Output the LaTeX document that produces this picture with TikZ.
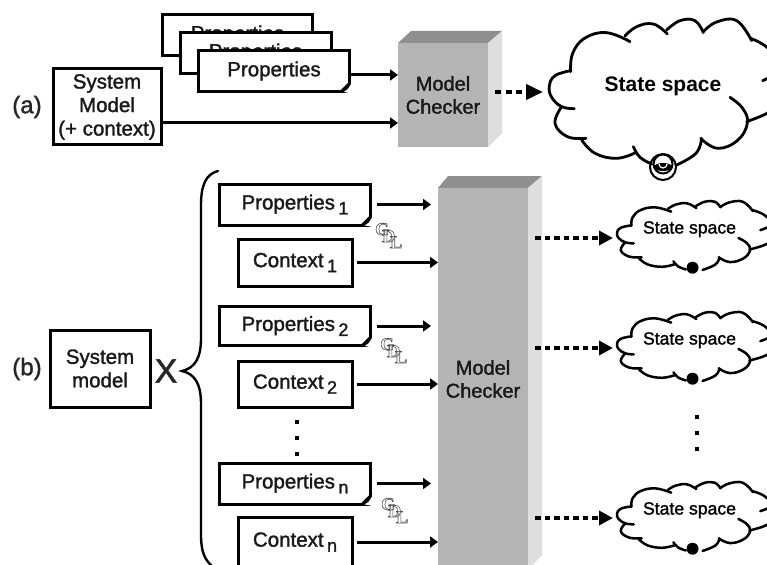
\documentclass[tikz,border=0pt]{standalone}
\usepackage{fontspec}
\usetikzlibrary{arrows.meta}
\setmainfont{Liberation Sans}
\newfontfamily\mfont{Liberation Sans}[FakeBold=1.5]
\newfontfamily\bfontx{Liberation Sans Bold}
\newfontfamily\gfont{Liberation Serif Bold}
\definecolor{ckfront}{HTML}{B4B4B4}
\definecolor{cktop}{HTML}{8F8F8F}
\definecolor{ckside}{HTML}{DEDEDE}
\newcommand{\fs}[1]{\fontsize{#1}{#1}\selectfont}
\newcommand{\sbs}[1]{\,\raisebox{-5pt}{\fs{18}#1}}
\tikzset{
  tbox/.style={draw=black,line width=3pt,fill=white,inner sep=0pt,outer sep=0pt,align=center,
    font=\mfont\fs{20.5},text=black!90},
  ckbody/.style={fill=ckfront,inner sep=0pt,outer sep=0pt,align=center,font=\mfont\fs{20},text=black!90},
  arr/.style={line width=3pt,-{Triangle[length=8pt,width=11pt]}},
  darr/.style={line width=4pt,dash pattern=on 5.5pt off 4pt,-{Triangle[length=14pt,width=14pt]}},
  cloudline/.style={line width=#1,line cap=round},
  lab/.style={font=\mfont\fs{24},inner sep=0pt,text=black!85},
  sstate/.style={font=\mfont\fs{17.6},inner sep=0pt},
  gdlx/.style={font=\gfont\fs{18},text=black!60,inner sep=0pt},
}
\newcommand{\fold}[1]{%
  \fill[white] ([shift={(-8,0)}]#1.south east) -- ([shift={(2,2)}]#1.south east) -- ([shift={(2,-8)}]#1.south east) -- cycle;
  \draw[line width=3pt,line join=round,fill=black] ([shift={(-8,0)}]#1.south east) -- ([shift={(0,-8)}]#1.south east) -- ([shift={(-3,-3.5)}]#1.south east) -- cycle;
}
\newcommand{\cloudlobes}[1]{%
  \begin{scope}[cloudline=#1]
  \draw plot[smooth,tension=.7] coordinates {(133,296) (95,290) (65,262) (58,228) (75,197) (122,182)};
  \draw plot[smooth,tension=.7] coordinates {(122,185) (128,130) (165,84) (230,68) (300,95)};
  \draw plot[smooth,tension=.7] coordinates {(285,78) (320,50) (370,42) (412,72)};
  \draw plot[smooth,tension=.7] coordinates {(410,60) (450,32) (495,32) (520,68)};
  \draw plot[smooth,tension=.7] coordinates {(520,65) (560,36) (620,32) (665,92)};
  \draw plot[smooth,tension=.7] coordinates {(662,85) (711,112) (745,160) (735,190) (698,212)};
  \draw plot[smooth,tension=.7] coordinates {(650,335) (711,310) (750,280)};
  \draw plot[smooth,tension=.7] coordinates {(600,262) (638,295) (652,340) (622,392) (562,415) (512,385)};
  \draw plot[smooth,tension=.7] coordinates {(515,385) (498,430) (440,465)};
  \draw plot[smooth,tension=.7] coordinates {(310,410) (330,442) (365,462)};
  \draw plot[smooth,tension=.7] coordinates {(317,428) (260,445) (195,430) (155,390)};
  \draw plot[smooth,tension=.7] coordinates {(168,385) (112,380) (75,340) (95,290)};
  \end{scope}
}
\newcommand{\smallcloud}[2]{%
  \begin{scope}[shift={(604,#1)},x=.224pt,y=-.1575pt]
    \cloudlobes{2.5pt}
  \end{scope}
  \fill[black] (692.5,#1+71) circle (6);
  \node[sstate] (#2) at (689.5,#1+32.5) {State space};
}
\newcommand{\gdlmark}{\special{pdf:code q 1 Tr 0.6 w 0.3 G}G\kern-7pt\raisebox{-7pt}{D}\kern-5pt\raisebox{-13pt}{L}\special{pdf:code Q}}
\begin{document}
\begin{tikzpicture}[x=1pt,y=-1pt]
\useasboundingbox (0,0) rectangle (767,564);
\fill[white] (0,0) rectangle (767,564);
\clip (0,0) rectangle (767,564);

% part (a)
\node[lab] (laba) at (27,107) {(a)};
\node[tbox,minimum width=108pt,minimum height=76pt] (sysa) at (107,107) {System\\[3pt]Model\\[3pt](+ context)};
\node[tbox,minimum width=150pt,minimum height=41pt] (pa1) at (237.5,35) {Properties};
\node[tbox,minimum width=151pt,minimum height=41pt] (pa2) at (255.5,53) {Properties};
\node[tbox,minimum width=151pt,minimum height=41pt] (pa3) at (274,71) {Properties};
\fold{pa3}

\fill[cktop] (398,43) -- (411,31) -- (502,31) -- (488,43) -- cycle;
\fill[ckside] (488,43) -- (502,31) -- (502,133) -- (488,147) -- cycle;
\node[ckbody,minimum width=90pt,minimum height=104pt] (cka) at (443,95) {Model\\[3pt]Checker};

\coordinate (pa3out) at (pa3.east |- 0,75);
\draw[arr] (pa3out) -- (pa3out -| cka.west);
\coordinate (sysaout) at (sysa.east |- 0,123);
\draw[arr] (sysaout) -- (sysaout -| cka.west);

\coordinate (dasrc) at (495,92);
\coordinate (dadst) at (543,92);
\draw[darr,dash pattern=on 6pt off 4.5pt,-{Triangle[length=17pt,width=15pt]}] (dasrc) -- (dadst);

\begin{scope}[shift={(530,10)},x=.3333pt,y=-.3333pt]
  \cloudlobes{2.8pt}
\end{scope}
\node[font=\bfontx\fs{21},inner sep=0pt] (ssa) at (663,86) {State space};
\fill[black] (663,167) ellipse (9 and 4);
\draw[line width=2pt] (663,167) circle (13);
\draw[line width=2pt] (663,164) circle (9.5);
\draw[white,line width=1.2pt] (659,164) arc (180:0:4);

% part (b)
\node[lab] (labb) at (27,369) {(b)};
\node[tbox,minimum width=100pt,minimum height=77pt] (sysb) at (100,368.5) {System\\[3pt]model};
\node[inner sep=0pt,font=\mfont\fs{34},text=black!85] (times) at (166,371) {X};
\draw[line width=2.4pt,line cap=round] (218,171) .. controls (206,174) and (201,185) .. (201,205) -- (201,338) .. controls (201,358) and (195,368) .. (182,371) .. controls (195,374) and (201,384) .. (201,404) -- (201,535) .. controls (201,552) and (205,560) .. (212,566);

\node[tbox,minimum width=151pt,minimum height=41pt] (p1) at (295,204.5) {Properties\sbs{1}};
\node[tbox,minimum width=114pt,minimum height=47pt] (c1) at (295,262.5) {Context\sbs{1}};
\node[tbox,minimum width=151pt,minimum height=39pt] (p2) at (295,326) {Properties\sbs{2}};
\node[tbox,minimum width=114pt,minimum height=46pt] (c2) at (295,384) {Context\sbs{2}};
\node[tbox,minimum width=151pt,minimum height=41pt] (pn) at (295,483.5) {Properties\sbs{n}};
\node[tbox,minimum width=114pt,minimum height=49pt] (cn) at (295,542) {Context\sbs{n}};
\fold{p1}\fold{p2}\fold{pn}

\foreach \yy in {422,438,454} \fill[black] (297,\yy) +(-2,-2) rectangle +(2,2);
\foreach \yy in {417,433,449} \fill[black] (697,\yy) +(-2,-2) rectangle +(2,2);

\fill[cktop] (438,188) -- (448,176) -- (542,176) -- (528,188) -- cycle;
\fill[ckside] (528,188) -- (542,176) -- (542,555) -- (528,570) -- cycle;
\node[ckbody,minimum width=90pt,minimum height=382pt] (ckb) at (483,379) {Model\\[3pt]Checker};

\foreach \nd in {p1,p2,pn}
  \draw[arr,shorten <=6pt,shorten >=7pt] (\nd.east) -- (\nd.east -| ckb.west);
\foreach \nd in {c1,c2,cn}
  \draw[arr,shorten <=5pt] (\nd.east) -- (\nd.east -| ckb.west);

\node[gdlx,anchor=north west] (gdla) at (375,223) {\gdlmark};
\node[gdlx,anchor=north west] (gdlb) at (380,338) {\gdlmark};
\node[gdlx,anchor=north west] (gdlc) at (381,498) {\gdlmark};

\smallcloud{196.7}{ss1}
\smallcloud{307.7}{ss2}
\smallcloud{477.7}{ss3}
\foreach \n/\yy in {1/238,2/348,3/518} {
  \coordinate (ds\n) at (535,\yy);
  \coordinate (dt\n) at (613,\yy);
  \draw[darr] (ds\n) -- (dt\n);
}
\end{tikzpicture}
\end{document}
